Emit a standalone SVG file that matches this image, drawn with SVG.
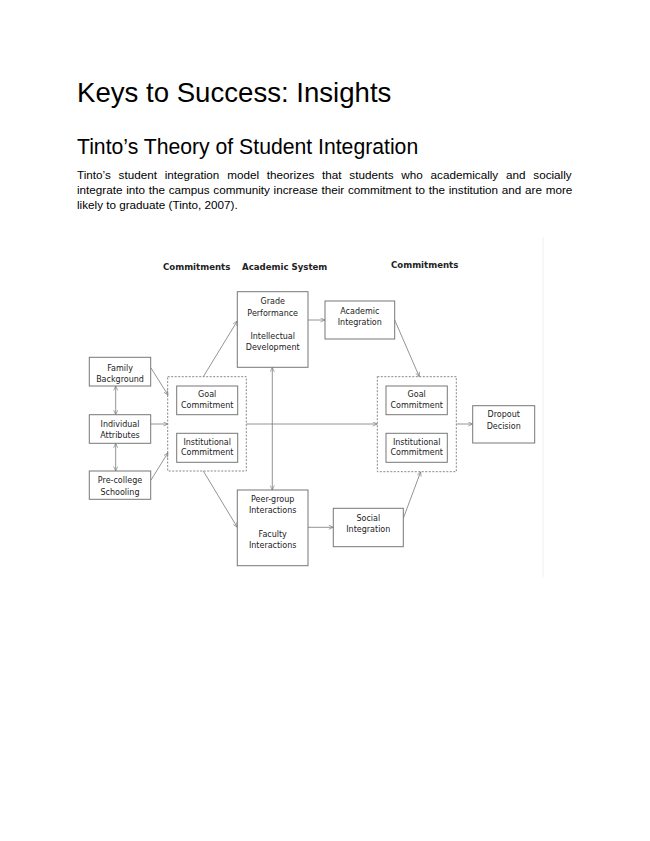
<svg xmlns="http://www.w3.org/2000/svg" width="650" height="841" viewBox="0 0 650 841">
<defs>
<style>
.doc{font-family:"Liberation Sans",Arial,sans-serif;fill:#000}
.t{font-family:"DejaVu Sans",Verdana,sans-serif;font-size:8px;fill:#222;text-anchor:middle}
.h{font-family:"DejaVu Sans",Verdana,sans-serif;font-size:8.6px;font-weight:bold;fill:#222}
.box{fill:#fff;stroke:#777;stroke-width:1}
.grp{fill:none;stroke:#888;stroke-width:1;stroke-dasharray:2,1.5}
.c{fill:none;stroke:#888;stroke-width:0.9}
.a{marker-end:url(#ah)}
.aa{marker-start:url(#ah);marker-end:url(#ah)}
</style>
<marker id="ah" viewBox="0 0 10 10" refX="10" refY="5" markerWidth="5" markerHeight="5" orient="auto-start-reverse" markerUnits="userSpaceOnUse">
<path d="M1,1 L10,5 L1,9" fill="none" stroke="#777" stroke-width="1.3"/>
</marker>
</defs>
<rect width="650" height="841" fill="#fff"/>
<g id="document-text">
<text class="doc" x="77" y="102" font-size="27.6">Keys to Success: Insights</text>
<text class="doc" x="77" y="154" font-size="21.2">Tinto’s Theory of Student Integration</text>
<text class="doc" font-size="11.7" fill="#222"><tspan x="77" y="178.5" word-spacing="4.57">Tinto’s student integration model theorizes that students who academically and socially</tspan><tspan x="77" y="193.5" word-spacing="0.47">integrate into the campus community increase their commitment to the institution and are more</tspan><tspan x="77" y="208.5">likely to graduate (Tinto, 2007).</tspan></text>
</g>
<line x1="543" y1="237" x2="543" y2="577" stroke="#f0f0f0" stroke-width="1"/>
<g id="headers">
<text class="h" x="163" y="270">Commitments</text>
<text class="h" x="242" y="270">Academic System</text>
<text class="h" x="391" y="268">Commitments</text>
</g>
<g id="connectors">
<path class="c a" d="M151,368 L168,395"/>
<path class="c a" d="M151,424 L168,424"/>
<path class="c a" d="M151,480 L168,452.7"/>
<path class="c aa" d="M115.7,386 L115.7,414.7"/>
<path class="c aa" d="M115.7,443.3 L115.7,471"/>
<path class="c a" d="M203.3,376.7 L237.3,321"/>
<path class="c a" d="M203.3,471 L237.3,527.3"/>
<path class="c aa" d="M272.3,367.3 L272.3,490"/>
<path class="c a" d="M246.3,424 L377.3,424"/>
<path class="c a" d="M308,320 L325,320"/>
<path class="c a" d="M394.7,320 L419.3,376.7"/>
<path class="c a" d="M308,527.3 L333.3,527.3"/>
<path class="c a" d="M403.3,518.3 L420.7,471.7"/>
<path class="c a" d="M456.3,424 L472.7,424"/>
</g>
<g id="family-background">
<rect class="box" x="89.3" y="357.3" width="61.4" height="28.7"/>
<text class="t" x="120" y="370.5">Family</text>
<text class="t" x="120" y="382">Background</text>
</g>
<g id="individual-attributes">
<rect class="box" x="89.3" y="414.7" width="61.4" height="28.6"/>
<text class="t" x="120" y="427">Individual</text>
<text class="t" x="120" y="437.7">Attributes</text>
</g>
<g id="pre-college-schooling">
<rect class="box" x="89.3" y="471" width="61.4" height="28.3"/>
<text class="t" x="120" y="483">Pre-college</text>
<text class="t" x="120" y="494.7">Schooling</text>
</g>
<g id="commitments-left">
<rect class="grp" x="167.7" y="376.7" width="78.6" height="94.3"/>
<g id="goal-commitment-left">
<rect class="box" x="176.7" y="386" width="61" height="28.7"/>
<text class="t" x="207.2" y="396.5">Goal</text>
<text class="t" x="207.2" y="408">Commitment</text>
</g>
<g id="institutional-commitment-left">
<rect class="box" x="176.7" y="433.3" width="61" height="29"/>
<text class="t" x="207.2" y="445.3">Institutional</text>
<text class="t" x="207.2" y="455.3">Commitment</text>
</g>
</g>
<g id="grade-performance">
<rect class="box" x="237.3" y="291.7" width="70.7" height="75.6"/>
<text class="t" x="272.7" y="304">Grade</text>
<text class="t" x="272.7" y="315.7">Performance</text>
<text class="t" x="272.7" y="338.7">Intellectual</text>
<text class="t" x="272.7" y="350.3">Development</text>
</g>
<g id="peer-group">
<rect class="box" x="237.3" y="490" width="70.7" height="75.7"/>
<text class="t" x="272.7" y="502">Peer-group</text>
<text class="t" x="272.7" y="513">Interactions</text>
<text class="t" x="272.7" y="537">Faculty</text>
<text class="t" x="272.7" y="548.3">Interactions</text>
</g>
<g id="academic-integration">
<rect class="box" x="325" y="301" width="69.7" height="38"/>
<text class="t" x="359.8" y="313.7">Academic</text>
<text class="t" x="359.8" y="325">Integration</text>
</g>
<g id="social-integration">
<rect class="box" x="333.3" y="508.3" width="70" height="38.4"/>
<text class="t" x="368.3" y="520.7">Social</text>
<text class="t" x="368.3" y="532.3">Integration</text>
</g>
<g id="commitments-right">
<rect class="grp" x="377.3" y="376.7" width="79" height="95"/>
<g id="goal-commitment-right">
<rect class="box" x="386" y="386" width="61.3" height="28.7"/>
<text class="t" x="416.7" y="396.5">Goal</text>
<text class="t" x="416.7" y="408">Commitment</text>
</g>
<g id="institutional-commitment-right">
<rect class="box" x="386" y="433.3" width="61.3" height="29"/>
<text class="t" x="416.7" y="445.3">Institutional</text>
<text class="t" x="416.7" y="455.3">Commitment</text>
</g>
</g>
<g id="dropout-decision">
<rect class="box" x="472.7" y="405.7" width="62" height="37.3"/>
<text class="t" x="503.7" y="417.3">Dropout</text>
<text class="t" x="503.7" y="428.7">Decision</text>
</g>
</svg>
